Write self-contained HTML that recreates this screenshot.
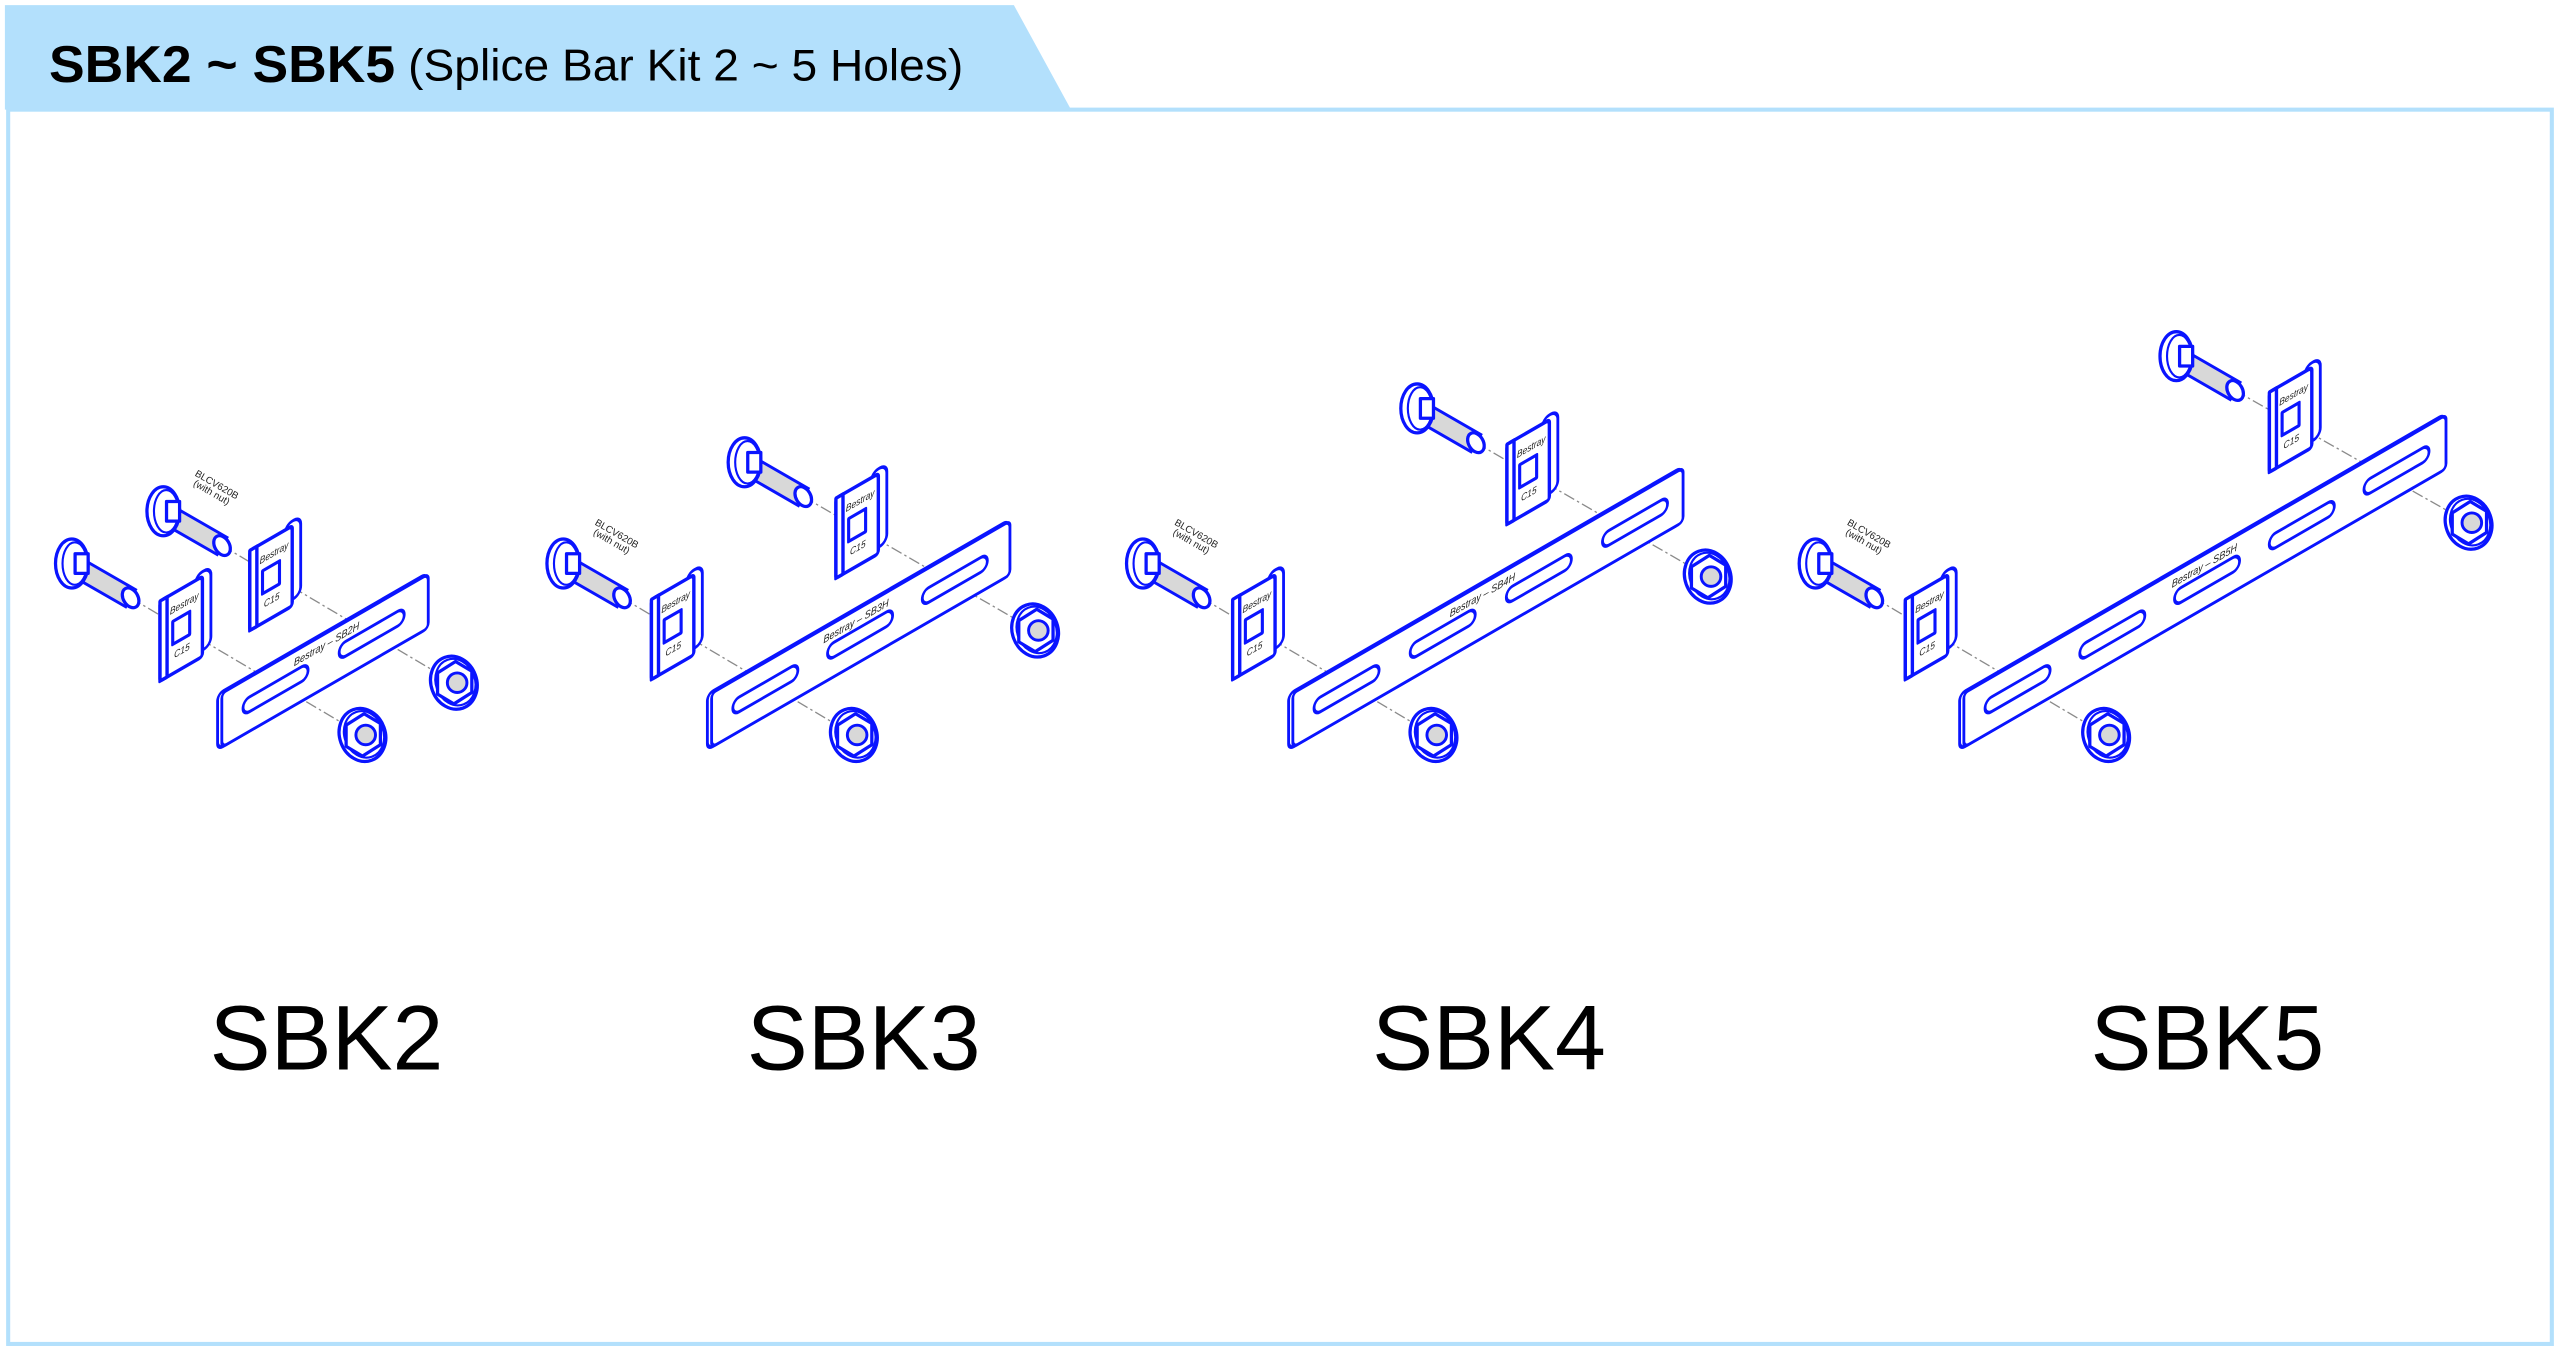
<!DOCTYPE html>
<html><head><meta charset="utf-8"><style>
html,body{margin:0;padding:0;background:#fff;}
svg{display:block;}
.b{fill:#fff;stroke:#0a14ff;stroke-width:2;stroke-linejoin:round}
.bt{fill:none;stroke:#0a14ff;stroke-width:1.3}
.d{stroke:#8a8a8a;stroke-width:0.8;stroke-dasharray:7 2 1.5 2;fill:none}
.th{fill:#d8d8d8;stroke:#0a14ff;stroke-width:1.8}
.sm{font-family:"Liberation Sans",sans-serif;font-size:6.5px;fill:#222;font-style:italic}
.lb{font-family:"Liberation Sans",sans-serif;font-size:6px;fill:#222}
.big{font-family:"Liberation Sans",sans-serif;font-size:56px;fill:#000;text-anchor:middle}
</style></head><body>
<svg width="2560" height="1354" viewBox="0 0 1568 829" xmlns="http://www.w3.org/2000/svg">
<defs>
<symbol id="bolt" overflow="visible">
 <polygon class="th" points="0,7.5 6,-3 39,16 33,26.5"/>
 <ellipse class="b" cx="36" cy="21" rx="4.5" ry="6.5" transform="rotate(-30 36 21)"/>
 <ellipse class="b" cx="0" cy="0" rx="10" ry="15"/>
 <ellipse class="bt" cx="1.8" cy="0" rx="7.5" ry="13"/>
 <rect class="b" x="2" y="-6" width="8" height="12"/>
</symbol>
<symbol id="clip" overflow="visible">
 <g transform="matrix(0.866 -0.5 0 1 0 0)">
  <rect class="b" x="25" y="-3" width="11" height="48" rx="5"/>
  <rect class="b" x="0" y="0" width="30" height="49" rx="2" style="stroke-width:2.4"/>
  <rect class="b" x="0" y="0" width="5" height="49" style="stroke-width:2.4"/>
  <rect class="b" x="9" y="17" width="12" height="14" style="stroke-width:2.2"/>
  <text class="sm" x="7" y="12" style="font-size:6px">Bestray</text>
  <text class="sm" x="10" y="40" style="font-size:6px">C15</text>
 </g>
</symbol>
<symbol id="nut" overflow="visible">
 <ellipse class="b" cx="0" cy="0" rx="14" ry="16.5" transform="rotate(-20)"/>
 <ellipse class="bt" cx="1" cy="0" rx="12" ry="14.5" transform="rotate(-20)"/>
 <polygon class="b" points="-10,-6 1,-13 11,-7 11,6 0,13 -10,7"/>
 <circle cx="2" cy="0" r="6" class="th"/>
</symbol>
</defs>

<rect x="5" y="67" width="1558" height="756" fill="#fff" stroke="#b3e0fc" stroke-width="2.5"/>
<polygon points="3,3 621,3 656,67 3,67" fill="#b3e0fc"/>
<text x="30" y="50" font-family="Liberation Sans,sans-serif" font-weight="bold" font-size="32" textLength="212" lengthAdjust="spacingAndGlyphs">SBK2 ~ SBK5</text>
<text x="250" y="49" font-family="Liberation Sans,sans-serif" font-size="27" textLength="340" lengthAdjust="spacingAndGlyphs">(Splice Bar Kit 2 ~ 5 Holes)</text>

<!-- SBK2 -->
<g>
 <line class="d" x1="80" y1="366" x2="222" y2="450"/>
 <line class="d" x1="136" y1="334" x2="278" y2="418"/>
 <use href="#bolt" x="44" y="345"/>
 <use href="#bolt" x="100" y="313"/>
 <use href="#clip" x="98" y="368"/>
 <use href="#clip" x="153" y="337"/>
 <g transform="matrix(0.866 -0.5 0 1 135 425)">
  <rect class="b" x="-2" y="-1" width="148" height="34" rx="4"/>
  <rect class="b" x="1" y="0" width="146" height="33" rx="3"/>
  <rect class="b" x="16" y="12" width="46" height="9" rx="4.5"/>
  <rect class="b" x="84" y="12" width="46" height="9" rx="4.5"/>
  <text class="sm" x="52" y="9">Bestray  –  SB2H</text>
 </g>
 <use href="#nut" x="222" y="450"/>
 <use href="#nut" x="278" y="418"/>
 <text class="lb" transform="translate(119,291) rotate(30)">BLCV620B</text>
 <text class="lb" transform="translate(118,297) rotate(30)">(with  nut)</text>
</g>

<!-- SBK3 -->
<g>
 <line class="d" x1="381" y1="366" x2="523" y2="450"/>
 <line class="d" x1="492" y1="304" x2="634" y2="386"/>
 <use href="#bolt" x="345" y="345"/>
 <use href="#bolt" x="456" y="283"/>
 <use href="#clip" x="399" y="367"/>
 <use href="#clip" x="512" y="305"/>
 <g transform="matrix(0.866 -0.5 0 1 435 425)">
  <rect class="b" x="-2" y="-1" width="213" height="34" rx="4"/>
  <rect class="b" x="1" y="0" width="211" height="33" rx="3"/>
  <rect class="b" x="16" y="12" width="46" height="9" rx="4.5"/>
  <rect class="b" x="83" y="12" width="46" height="9" rx="4.5"/>
  <rect class="b" x="150" y="12" width="46" height="9" rx="4.5"/>
  <text class="sm" x="80" y="9">Bestray  –  SB3H</text>
 </g>
 <use href="#nut" x="523" y="450"/>
 <use href="#nut" x="634" y="386"/>
 <text class="lb" transform="translate(364,321) rotate(30)">BLCV620B</text>
 <text class="lb" transform="translate(363,327) rotate(30)">(with  nut)</text>
</g>

<!-- SBK4 -->
<g>
 <line class="d" x1="736" y1="366" x2="878" y2="450"/>
 <line class="d" x1="904" y1="271" x2="1046" y2="353"/>
 <use href="#bolt" x="700" y="345"/>
 <use href="#bolt" x="868" y="250"/>
 <use href="#clip" x="755" y="367"/>
 <use href="#clip" x="923" y="272"/>
 <g transform="matrix(0.866 -0.5 0 1 791 425)">
  <rect class="b" x="-2" y="-1" width="278" height="34" rx="4"/>
  <rect class="b" x="1" y="0" width="276" height="33" rx="3"/>
  <rect class="b" x="16" y="12" width="46" height="9" rx="4.5"/>
  <rect class="b" x="84" y="12" width="46" height="9" rx="4.5"/>
  <rect class="b" x="152" y="12" width="46" height="9" rx="4.5"/>
  <rect class="b" x="220" y="12" width="46" height="9" rx="4.5"/>
  <text class="sm" x="112" y="9">Bestray  –  SB4H</text>
 </g>
 <use href="#nut" x="878" y="450"/>
 <use href="#nut" x="1046" y="353"/>
 <text class="lb" transform="translate(719,321) rotate(30)">BLCV620B</text>
 <text class="lb" transform="translate(718,327) rotate(30)">(with  nut)</text>
</g>

<!-- SBK5 -->
<g>
 <line class="d" x1="1148" y1="366" x2="1290" y2="450"/>
 <line class="d" x1="1369" y1="239" x2="1512" y2="320"/>
 <use href="#bolt" x="1112" y="345"/>
 <use href="#bolt" x="1333" y="218"/>
 <use href="#clip" x="1167" y="367"/>
 <use href="#clip" x="1390" y="240"/>
 <g transform="matrix(0.866 -0.5 0 1 1202 425)">
  <rect class="b" x="-2" y="-1" width="343" height="34" rx="4"/>
  <rect class="b" x="1" y="0" width="341" height="33" rx="3"/>
  <rect class="b" x="16" y="12" width="46" height="9" rx="4.5"/>
  <rect class="b" x="83" y="12" width="46" height="9" rx="4.5"/>
  <rect class="b" x="150" y="12" width="46" height="9" rx="4.5"/>
  <rect class="b" x="217" y="12" width="46" height="9" rx="4.5"/>
  <rect class="b" x="284" y="12" width="46" height="9" rx="4.5"/>
  <text class="sm" x="148" y="9">Bestray  –  SB5H</text>
 </g>
 <use href="#nut" x="1290" y="450"/>
 <use href="#nut" x="1512" y="320"/>
 <text class="lb" transform="translate(1131,321) rotate(30)">BLCV620B</text>
 <text class="lb" transform="translate(1130,327) rotate(30)">(with  nut)</text>
</g>

<text class="big" x="200" y="655">SBK2</text>
<text class="big" x="529" y="655">SBK3</text>
<text class="big" x="912" y="655">SBK4</text>
<text class="big" x="1352" y="655">SBK5</text>
</svg>
</body></html>
